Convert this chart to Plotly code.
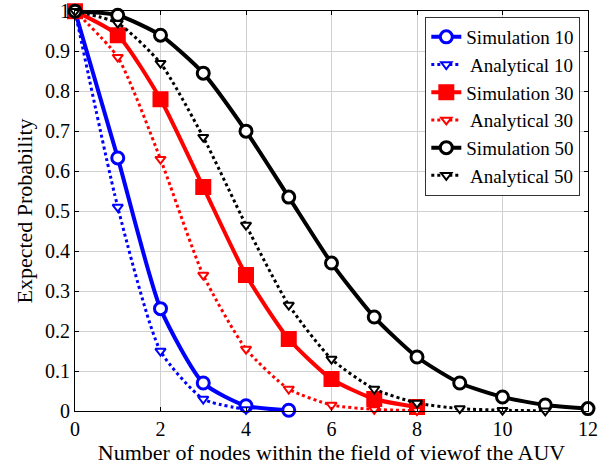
import plotly.graph_objects as go

x_sim10 = [0, 1, 2, 3, 4, 5]
sim10 = [1.0, 0.633, 0.256, 0.07, 0.013, 0.002]
x_ana10 = [0, 1, 2, 3, 4]
ana10 = [1.0, 0.51, 0.15, 0.03, 0.004]

x_sim30 = [0, 1, 2, 3, 4, 5, 6, 7, 8]
sim30 = [1.0, 0.94, 0.78, 0.56, 0.34, 0.18, 0.08, 0.03, 0.01]
x_ana30 = [0, 1, 2, 3, 4, 5, 6, 7, 8]
ana30 = [1.0, 0.885, 0.63, 0.34, 0.155, 0.055, 0.015, 0.004, 0.001]

x_sim50 = [0, 1, 2, 3, 4, 5, 6, 7, 8, 9, 10, 11, 12]
sim50 = [1.0, 0.99, 0.94, 0.845, 0.70, 0.535, 0.37, 0.235, 0.135, 0.07, 0.035, 0.015, 0.006]
x_ana50 = [0, 1, 2, 3, 4, 5, 6, 7, 8, 9, 10, 11]
ana50 = [1.0, 0.97, 0.87, 0.685, 0.465, 0.265, 0.13, 0.055, 0.02, 0.006, 0.002, 0.0005]

x_ticks = [0, 2, 4, 6, 8, 10, 12]
y_ticks = [0, 0.1, 0.2, 0.3, 0.4, 0.5, 0.6, 0.7, 0.8, 0.9, 1]
y_tick_text = ["0", "0.1", "0.2", "0.3", "0.4", "0.5", "0.6", "0.7", "0.8", "0.9", "1"]

FONT = "Liberation Serif"
fig = go.Figure()

def sim(x, y, name, color, symbol, size, filled):
    fig.add_trace(go.Scatter(
        x=x, y=y, name=name, mode="lines+markers", cliponaxis=False,
        line=dict(color=color, width=4, shape="spline", smoothing=0.6),
        marker=dict(symbol=symbol, size=size,
                    color=color if filled else "white",
                    line=dict(color=color, width=3)),
    ))

def ana(x, y, name, color):
    fig.add_trace(go.Scatter(
        x=x, y=y, name=name, mode="lines+markers", cliponaxis=False,
        line=dict(color=color, width=3, dash="dot", shape="spline", smoothing=0.6),
        marker=dict(symbol="triangle-down", size=9, color="white",
                    line=dict(color=color, width=2)),
    ))

sim(x_sim10, sim10, "Simulation 10", "#0000ff", "circle", 12, False)
ana(x_ana10, ana10, " Analytical 10", "#0000ff")
sim(x_sim30, sim30, "Simulation 30", "#ff0000", "square", 13, True)
ana(x_ana30, ana30, " Analytical 30", "#ff0000")
sim(x_sim50, sim50, "Simulation 50", "#000000", "circle", 12, False)
ana(x_ana50, ana50, " Analytical 50", "#000000")

axis_common = dict(
    showline=True, linecolor="black", linewidth=1, mirror="ticks",
    ticks="inside", ticklen=4, tickcolor="black",
    showgrid=True, gridcolor="#d0d0d0", gridwidth=1, zeroline=False,
    tickfont=dict(family=FONT, size=20, color="black"),
)

fig.update_layout(
    width=606, height=466,
    margin=dict(l=75, r=18, t=11, b=55, autoexpand=False),
    paper_bgcolor="white", plot_bgcolor="white",
    font=dict(family=FONT, size=20, color="black"),
    xaxis=dict(range=[0, 12], tickvals=x_ticks,
               title=dict(text="Number of nodes within the field of viewof the AUV",
                          font=dict(family=FONT, size=22), standoff=2),
               **axis_common),
    yaxis=dict(range=[0, 1.0005], tickvals=y_ticks, ticktext=y_tick_text,
               title=dict(text="Expected Probability",
                          font=dict(family=FONT, size=22), standoff=6),
               ticklabeloverflow="allow",
               **axis_common),
    legend=dict(x=0.985, y=0.985, xanchor="right", yanchor="top",
                bgcolor="white", bordercolor="#333", borderwidth=1,
                font=dict(family=FONT, size=19), tracegroupgap=0,
                itemwidth=30),
    showlegend=True,
)

fig.write_html("out.html")
